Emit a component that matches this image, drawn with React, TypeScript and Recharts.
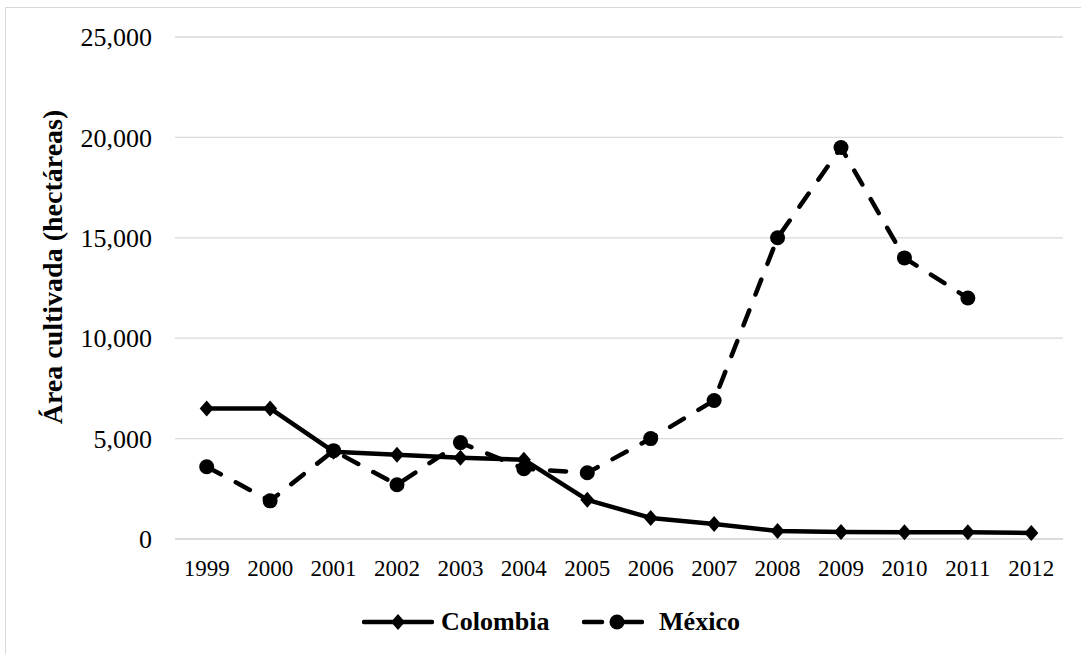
import React from 'react';
import { LineChart, Line, XAxis, YAxis, CartesianGrid, Legend } from 'recharts';

const years = ['1999','2000','2001','2002','2003','2004','2005','2006','2007','2008','2009','2010','2011','2012'];
const colombia = [6500, 6500, 4350, 4200, 4050, 3950, 1950, 1050, 750, 400, 350, 330, 330, 300];
const mexico: (number | null)[] = [3600, 1900, 4400, 2700, 4800, 3500, 3300, 5000, 6900, 15000, 19500, 14000, 12000, null];
const yTicks = [0, 5000, 10000, 15000, 20000, 25000];

const data = years.map((y, i) => ({ year: y, Colombia: colombia[i], 'México': mexico[i] }));

const FONT = '"Liberation Serif", "Times New Roman", serif';

const Diamond = (props: any) => {
  const { cx, cy } = props;
  if (cx == null || cy == null) return null;
  return <polygon points={`${cx},${cy - 8} ${cx + 7},${cy} ${cx},${cy + 8} ${cx - 7},${cy}`} fill="#000" />;
};

const LegendContent = () => (
  <div style={{ display: 'flex', justifyContent: 'center', alignItems: 'center', height: 40, paddingLeft: 39, fontFamily: FONT, fontWeight: 'bold', fontSize: 26 }}>
    <svg width={72} height={20} style={{ display: 'block' }}>
      <line x1={2} y1={10} x2={70} y2={10} stroke="#000" strokeWidth={4.5} strokeLinecap="round" />
      <polygon points="36,2 43,10 36,18 29,10" fill="#000" />
    </svg>
    <span style={{ marginLeft: 7, width: 107 }}>Colombia</span>
    <svg width={62} height={20} style={{ display: 'block', marginLeft: 34 }}>
      <line x1={2} y1={10} x2={20} y2={10} stroke="#000" strokeWidth={4.5} strokeLinecap="round" />
      <line x1={32} y1={10} x2={60} y2={10} stroke="#000" strokeWidth={4.5} strokeLinecap="round" />
      <circle cx={35} cy={10} r={7.5} fill="#000" />
    </svg>
    <span style={{ marginLeft: 15 }}>México</span>
  </div>
);

const YLabel = () => (
  <text x={52} y={267} transform="rotate(-90 52 267)" textAnchor="middle" dominantBaseline="central"
    fontFamily={FONT} fontWeight="bold" fontSize={28} fill="#000">
    Área cultivada (hectáreas)
  </text>
);

export default function App() {
  return (
    <div style={{ position: 'absolute', left: 0, top: 0, width: 1081, height: 654, overflow: 'hidden', background: '#fff' }}>
      <div style={{ position: 'absolute', left: 5, top: 7, width: 1100, height: 700, border: '1.5px solid #d9d9d9', boxSizing: 'border-box' }} />
      <div style={{ position: 'absolute', left: 0, top: 0 }}>
        <LineChart width={1081} height={654} data={data} margin={{ top: 37, right: 18, bottom: 12, left: 0 }}>
          <CartesianGrid vertical={false} stroke="#d9d9d9" strokeWidth={1.3} />
          <XAxis dataKey="year" padding={{ left: 31.7, right: 31.7 }} height={63}
            axisLine={{ stroke: '#d9d9d9', strokeWidth: 1.3 }} tickLine={false} tickSize={0} tickMargin={21}
            tick={{ fontFamily: FONT, fontSize: 23, fill: '#000' }} interval={0} />
          <YAxis width={175} domain={[0, 25000]} ticks={yTicks} axisLine={false} tickLine={false}
            tickSize={0} tickMargin={23} tickFormatter={(v: number) => v.toLocaleString('en-US')}
            tick={{ fontFamily: FONT, fontSize: 26, fill: '#000' }}
            label={{ content: () => <YLabel /> }} />
          <Legend verticalAlign="bottom" content={() => <LegendContent />} />
          <Line dataKey="Colombia" stroke="#000" strokeWidth={4.5} dot={<Diamond />} activeDot={false}
            isAnimationActive={false} strokeLinejoin="round" />
          <Line dataKey="México" stroke="#000" strokeWidth={4.5} strokeDasharray="16 17" strokeLinecap="round"
            dot={{ r: 7.5, fill: '#000', stroke: 'none' }} activeDot={false} isAnimationActive={false} />
        </LineChart>
      </div>
    </div>
  );
}
